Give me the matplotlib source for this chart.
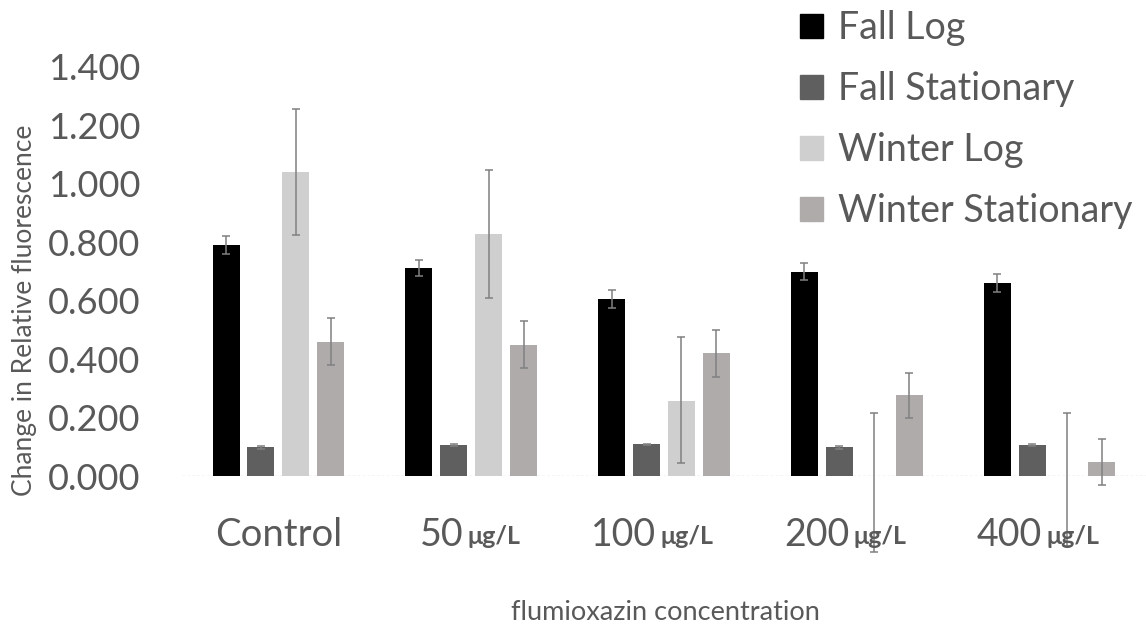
import matplotlib
matplotlib.use("Agg")
from matplotlib import pyplot as plt
from matplotlib.patches import Patch
import matplotlib.transforms as mtransforms
import numpy as np

plt.rcParams['font.family'] = ['Lato', 'DejaVu Sans']

categories = ['Control', '50', '100', '200', '400']
unit = 'μg/L'
series = ['Fall Log', 'Fall Stationary', 'Winter Log', 'Winter Stationary']
colors = ['#000000', '#5f5f5f', '#d0cfcf', '#afabab']

fall_log = [0.791, 0.711, 0.606, 0.700, 0.660]
fall_stat = [0.099, 0.106, 0.108, 0.098, 0.106]
winter_log = [1.042, 0.829, 0.258, 0.000, 0.000]
winter_stat = [0.460, 0.449, 0.420, 0.277, 0.047]

fall_log_err = [0.030, 0.027, 0.032, 0.030, 0.030]
fall_stat_err = [0.005, 0.004, 0.003, 0.005, 0.003]
winter_log_err_lo = [0.218, 0.219, 0.212, 0.260, 0.240]
winter_log_err_hi = [0.215, 0.219, 0.217, 0.217, 0.217]
winter_stat_err = [0.080, 0.080, 0.080, 0.077, 0.078]

values = [fall_log, fall_stat, winter_log, winter_stat]
errors = [fall_log_err, fall_stat_err,
          [winter_log_err_lo, winter_log_err_hi], winter_stat_err]

text_color = '#595959'

fig = plt.figure(figsize=(11.46, 6.32), dpi=100)
ax = fig.add_axes([182 / 1146, 1 - 476 / 632, 1 - 182 / 1146, (476 - 67) / 632])

x = np.arange(len(categories))
pitch = 0.181
width = 0.14
for i, (vals, err, col) in enumerate(zip(values, errors, colors)):
    pos = x + (i - 1.5) * pitch
    ax.bar(pos, vals, width=width, color=col, zorder=2)
    eb = ax.errorbar(pos, vals, yerr=err, fmt='none', ecolor='#808080',
                     elinewidth=1.1, capsize=3, capthick=1.1, zorder=3)
    for art in eb.get_children():
        art.set_clip_on(False)

ax.axhline(0, color='#cfcfcf', lw=1, ls=(0, (2, 1.5)), zorder=1)

ax.set_xlim(-0.5, len(categories) - 0.5)
ax.set_ylim(0, 1.4)
ax.set_yticks(np.arange(0, 1.41, 0.2))
ax.set_yticklabels(['%.3f' % v for v in np.arange(0, 1.41, 0.2)])
ax.tick_params(axis='y', length=0, pad=30, labelsize=26, labelcolor=text_color)
ax.set_xticks([])
for s in ax.spines.values():
    s.set_visible(False)

# category labels: number in large type, unit in small bold type
trans = mtransforms.blended_transform_factory(ax.transData, ax.transAxes)
for i, cat in enumerate(categories):
    if cat == 'Control':
        ax.text(i, -0.145, cat, transform=trans, ha='center', va='center',
                fontsize=27.5, color=text_color)
    else:
        ax.text(i - 0.04, -0.145, cat, transform=trans, ha='right', va='center',
                fontsize=27, color=text_color)
        ax.text(i - 0.018, -0.147, unit, transform=trans, ha='left', va='center',
                fontsize=18, fontweight='bold', color=text_color)

fig.text(665 / 1146, 1 - 613 / 632, 'flumioxazin concentration', ha='center',
         va='center', fontsize=19.5, color=text_color)
fig.text(25 / 1146, 1 - 310 / 632, 'Change in Relative fluorescence', ha='center',
         va='center', rotation=90, fontsize=19, color=text_color)

handles = [Patch(color=c) for c in colors]
leg = ax.legend(handles, series, loc='upper left',
                bbox_to_anchor=(800 / 1146, 1 - 10 / 632), bbox_transform=fig.transFigure,
                frameon=False, fontsize=27, handlelength=0.62, handleheight=0.62,
                handletextpad=0.38, labelspacing=0.67, borderpad=0, borderaxespad=0)
for t in leg.get_texts():
    t.set_color(text_color)

fig.savefig('out.png', dpi=100)
